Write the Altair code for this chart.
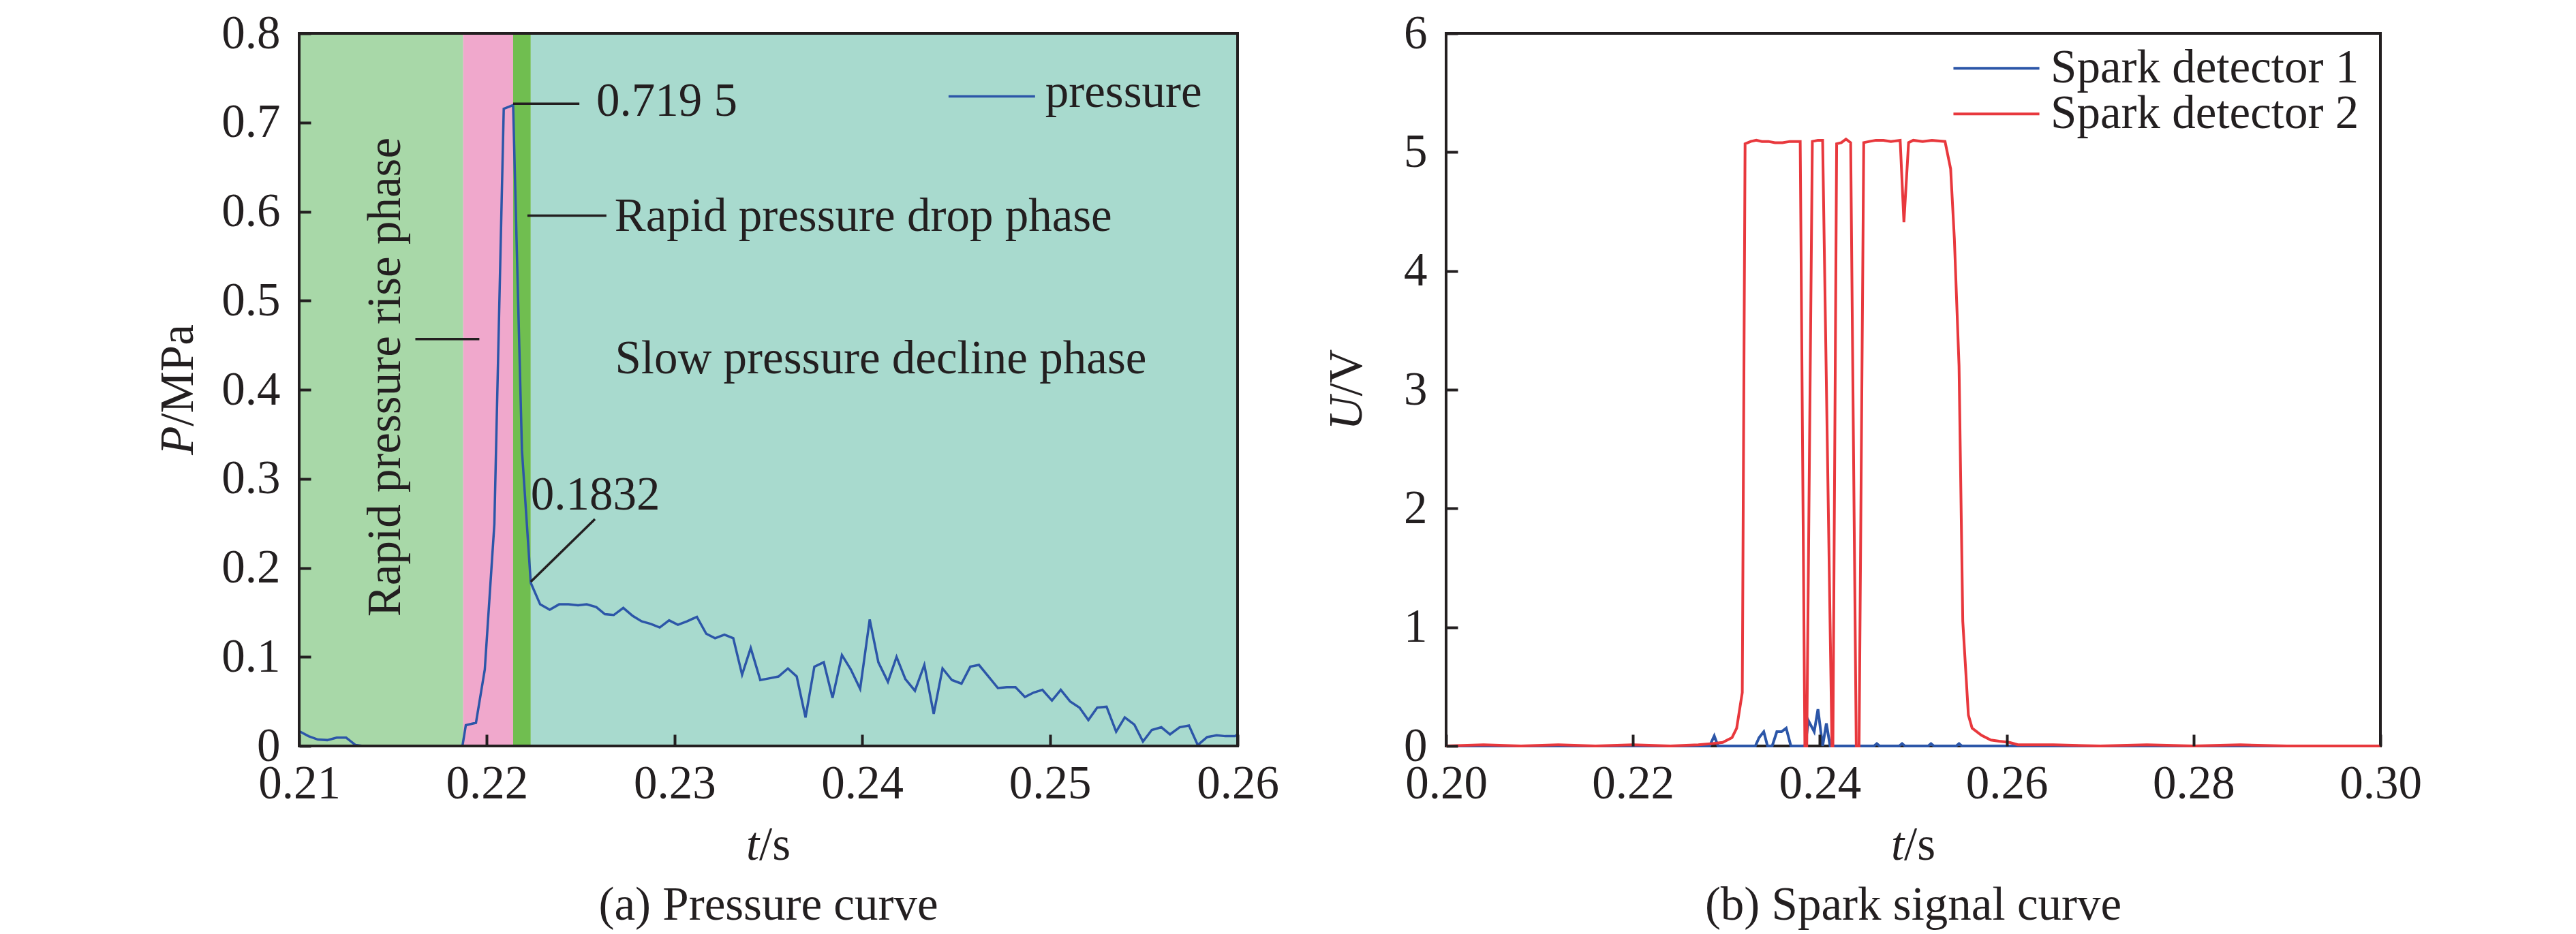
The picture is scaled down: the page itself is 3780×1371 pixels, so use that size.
import altair as alt
import pandas as pd

FONT = "Liberation Serif"
INK = "#231f20"
FS = 69

# ---------------- (a) pressure curve ----------------
p_time = [0.21000, 0.21050, 0.21100, 0.21150, 0.21200, 0.21250, 0.21300, 0.21340, 0.21870,
          0.21888, 0.21942, 0.21989, 0.22040, 0.22090, 0.22140, 0.22187, 0.22234, 0.22284,
          0.22335, 0.22385, 0.22435, 0.22486, 0.22532, 0.22583, 0.22629, 0.22676, 0.22727,
          0.22777, 0.22824, 0.22874, 0.22921, 0.22971, 0.23018, 0.23068, 0.23119, 0.23169,
          0.23216, 0.23266, 0.23313, 0.23360, 0.23406, 0.23457, 0.23507, 0.23554, 0.23604,
          0.23651, 0.23698, 0.23745, 0.23795, 0.23842, 0.23892, 0.23939, 0.23989, 0.24040,
          0.24086, 0.24137, 0.24183, 0.24230, 0.24281, 0.24331, 0.24381, 0.24428, 0.24478,
          0.24529, 0.24576, 0.24622, 0.24673, 0.24723, 0.24770, 0.24817, 0.24867, 0.24914,
          0.24960, 0.25011, 0.25058, 0.25108, 0.25158, 0.25205, 0.25252, 0.25302, 0.25353,
          0.25399, 0.25450, 0.25496, 0.25543, 0.25594, 0.25640, 0.25691, 0.25741, 0.25788,
          0.25838, 0.25888, 0.25935, 0.25986, 0.26000]
p_value = [0.0166, 0.0110, 0.0072, 0.0066, 0.0094, 0.0094, 0.0011, 0.0000, 0.0000,
           0.0233, 0.0260, 0.0858, 0.2490, 0.7153, 0.7195, 0.3320, 0.1832, 0.1590,
           0.1530, 0.1590, 0.1590, 0.1580, 0.1590, 0.1560, 0.1480, 0.1470, 0.1550,
           0.1460, 0.1400, 0.1370, 0.1330, 0.1410, 0.1360, 0.1400, 0.1450, 0.1260,
           0.1210, 0.1250, 0.1210, 0.0800, 0.1100, 0.0740, 0.0760, 0.0780, 0.0870,
           0.0780, 0.0320, 0.0890, 0.0940, 0.0540, 0.1020, 0.0860, 0.0640, 0.1420,
           0.0940, 0.0720, 0.1000, 0.0750, 0.0620, 0.0910, 0.0360, 0.0870, 0.0740,
           0.0700, 0.0890, 0.0910, 0.0780, 0.0650, 0.0660, 0.0660, 0.0550, 0.0600,
           0.0630, 0.0510, 0.0630, 0.0500, 0.0430, 0.0290, 0.0430, 0.0440, 0.0160,
           0.0320, 0.0240, 0.0050, 0.0180, 0.0210, 0.0130, 0.0210, 0.0230, 0.0010,
           0.0100, 0.0120, 0.0110, 0.0110, 0.0130]

band_start = [0.21000, 0.21874, 0.22140, 0.22234]
band_end = [0.21874, 0.22140, 0.22234, 0.26000]
band_color = ["#a8d8a8", "#f0a8cc", "#70be50", "#a8dace"]

a_x_ticks = [0.21, 0.22, 0.23, 0.24, 0.25, 0.26]
a_y_ticks = [0, 0.1, 0.2, 0.3, 0.4, 0.5, 0.6, 0.7, 0.8]

# annotation texts (t, P)
a_label_text = ["0.719 5", "Rapid pressure drop phase", "Slow pressure decline phase", "0.1832", "pressure"]
a_label_t = [0.22583, 0.22680, 0.22683, 0.22234, 0.24975]
a_label_p = [0.7235, 0.5940, 0.4346, 0.2818, 0.7335]
# rotated text
a_rot_text = ["Rapid pressure rise phase"]
a_rot_t = [0.21460]
a_rot_p = [0.4141]
# leader lines (t1, p1, t2, p2)
a_lead_t1 = [0.22140, 0.22216, 0.22234, 0.21619]
a_lead_p1 = [0.7210, 0.5955, 0.1844, 0.4568]
a_lead_t2 = [0.22493, 0.22637, 0.22576, 0.21960]
a_lead_p2 = [0.7210, 0.5955, 0.2547, 0.4568]
# legend line
a_leg_t1 = [0.24460]
a_leg_t2 = [0.24921]
a_leg_p = [0.7292]

# ---------------- (b) spark signal curve ----------------
d1_time = [0.2000, 0.2282, 0.2287, 0.2291, 0.2331, 0.2335, 0.2340, 0.2344, 0.2349, 0.2354,
           0.2359, 0.2364, 0.2369, 0.2384, 0.2388, 0.2394, 0.2398, 0.2403, 0.2407, 0.2411,
           0.2458, 0.2461, 0.2464, 0.2485, 0.2488, 0.2491, 0.2516, 0.2519, 0.2522, 0.2546,
           0.2549, 0.2552, 0.3000]
d1_value = [0.00, 0.00, 0.085, 0.00, 0.00, 0.07, 0.12, 0.00, 0.00, 0.12,
            0.12, 0.15, 0.00, 0.00, 0.21, 0.12, 0.31, 0.00, 0.19, 0.00,
            0.00, 0.02, 0.00, 0.00, 0.02, 0.00, 0.00, 0.02, 0.00, 0.00,
            0.02, 0.00, 0.00]

d2_time = [0.2000, 0.2040, 0.2080, 0.2120, 0.2160, 0.2200, 0.2240, 0.2270, 0.2285, 0.2296,
           0.2306, 0.2311, 0.2317, 0.2320, 0.2326, 0.2332, 0.2338, 0.2345, 0.2352, 0.2360,
           0.2368, 0.2379, 0.2384, 0.2386, 0.2392, 0.2398, 0.2403, 0.2413, 0.2414, 0.2418,
           0.2423, 0.2428, 0.2433, 0.2439, 0.2442, 0.2447, 0.2453, 0.2460, 0.2468, 0.2476,
           0.2486, 0.2490, 0.2495, 0.2500, 0.2510, 0.2520, 0.2534, 0.2540, 0.2544, 0.2549,
           0.2553, 0.2559, 0.2563, 0.2573, 0.2583, 0.2592, 0.2603, 0.2612, 0.2650, 0.2700,
           0.2750, 0.2800, 0.2850, 0.2900, 0.3000]
d2_value = [0.00, 0.01, 0.00, 0.01, 0.00, 0.01, 0.00, 0.01, 0.02, 0.03,
            0.07, 0.15, 0.45, 5.07, 5.09, 5.10, 5.09, 5.09, 5.08, 5.08,
            5.09, 5.09, 0.00, 0.00, 5.09, 5.10, 5.10, 0.00, 0.00, 5.07,
            5.08, 5.11, 5.08, 0.00, 0.00, 5.08, 5.09, 5.10, 5.10, 5.09,
            5.10, 4.41, 5.08, 5.10, 5.09, 5.10, 5.09, 4.86, 4.27, 3.20,
            1.05, 0.26, 0.15, 0.09, 0.05, 0.04, 0.03, 0.01, 0.01, 0.00,
            0.01, 0.00, 0.01, 0.00, 0.00]

b_x_ticks = [0.20, 0.22, 0.24, 0.26, 0.28, 0.30]
b_y_ticks = [0, 1, 2, 3, 4, 5, 6]

series_names = ["Spark detector 1", "Spark detector 2"]
series_colors = ["#2c56a8", "#e8383d"]
b_leg_t1 = [0.2543, 0.2543]
b_leg_t2 = [0.2635, 0.2635]
b_leg_u = [5.706, 5.321]
b_leg_text_t = [0.2647, 0.2647]

# ---------------- layout ----------------
WA, WB, H = 1377, 1371, 1046


def x_axis(ticks):
    return alt.Axis(values=ticks, format=".2f", labelFlush=False, labelOverlap=False,
                    tickSize=17, offset=-17, domain=False, grid=False, title=None,
                    labelPadding=21, tickWidth=4, tickColor=INK, labelColor=INK,
                    labelFont=FONT, labelFontSize=FS, zindex=1)


def y_axis(ticks, expr):
    return alt.Axis(values=ticks, labelExpr=expr, labelOverlap=False, labelFlush=False,
                    tickSize=17, offset=-17, domain=False, grid=False, title=None,
                    labelPadding=28, tickWidth=4, tickColor=INK, labelColor=INK,
                    labelFont=FONT, labelFontSize=FS, zindex=1)


one = alt.Data(values=[{}])


def txt(text, x, y, italic=False, angle=0, align="left", baseline="middle"):
    kw = dict(text=text, font=FONT, fontSize=FS, color=INK, align=align, baseline=baseline)
    if italic:
        kw["fontStyle"] = "italic"
    if angle:
        kw["angle"] = angle
    return alt.Chart(one).mark_text(**kw).encode(x=alt.value(x), y=alt.value(y))


frame = alt.Chart(one).mark_rect(fillOpacity=0, stroke=INK, strokeWidth=4).encode(
    x=alt.value(0), x2=alt.value("width"), y=alt.value(0), y2=alt.value("height"))

# ----- chart (a)
xs_a = alt.Scale(domain=[0.21, 0.26], nice=False, zero=False)
ys_a = alt.Scale(domain=[0, 0.8], nice=False, zero=False)
xa = x_axis(a_x_ticks)
ya = y_axis(a_y_ticks, "datum.value == 0 ? '0' : format(datum.value, '.1f')")

bands = pd.DataFrame({"t1": band_start, "t2": band_end, "c": band_color, "p1": 0.0, "p2": 0.8})
band_layer = alt.Chart(bands).mark_rect().encode(
    x=alt.X("t1:Q", scale=xs_a, axis=xa), x2="t2:Q",
    y=alt.Y("p1:Q", scale=ys_a, axis=ya), y2="p2:Q",
    color=alt.Color("c:N", scale=None))

pdf = pd.DataFrame({"t": p_time, "p": p_value})
p_line = alt.Chart(pdf).mark_line(color="#2c56a8", strokeWidth=3.5).encode(
    x=alt.X("t:Q", scale=xs_a, axis=xa), y=alt.Y("p:Q", scale=ys_a, axis=ya))

lead = pd.DataFrame({"t1": a_lead_t1 + a_leg_t1, "p1": a_lead_p1 + a_leg_p,
                     "t2": a_lead_t2 + a_leg_t2, "p2": a_lead_p2 + a_leg_p,
                     "c": [INK] * len(a_lead_t1) + ["#2c56a8"] * len(a_leg_t1)})
lead_layer = alt.Chart(lead).mark_rule(strokeWidth=3.5).encode(
    x=alt.X("t1:Q", scale=xs_a, axis=xa), x2="t2:Q",
    y=alt.Y("p1:Q", scale=ys_a, axis=ya), y2="p2:Q",
    color=alt.Color("c:N", scale=None))

lab = pd.DataFrame({"t": a_label_t, "p": a_label_p, "s": a_label_text})
lab_layer = alt.Chart(lab).mark_text(font=FONT, fontSize=FS, color=INK, align="left",
                                     baseline="middle").encode(
    x=alt.X("t:Q", scale=xs_a, axis=xa), y=alt.Y("p:Q", scale=ys_a, axis=ya), text="s:N")

rot = pd.DataFrame({"t": a_rot_t, "p": a_rot_p, "s": a_rot_text})
rot_layer = alt.Chart(rot).mark_text(font=FONT, fontSize=FS, color=INK, align="center",
                                     baseline="middle", angle=270).encode(
    x=alt.X("t:Q", scale=xs_a, axis=xa), y=alt.Y("p:Q", scale=ys_a, axis=ya), text="s:N")

fw = FS / 1000.0
# y title  P/MPa (rotated, reads upward)
pa_total = (611 + 2167) * fw
pa_start = H / 2 + pa_total / 2
title_a = [
    txt("P", -177, pa_start, italic=True, angle=270),
    txt("/MPa", -177, pa_start - 611 * fw, angle=270),
    txt("t", WA / 2 - (278 + 667) * fw / 2, H + 167, italic=True, baseline="alphabetic"),
    txt("/s", WA / 2 - (278 + 667) * fw / 2 + 278 * fw, H + 167, baseline="alphabetic"),
    txt("(a) Pressure curve", WA / 2, H + 255, align="center", baseline="alphabetic"),
]

chart_a = alt.layer(band_layer, p_line, lead_layer, lab_layer, rot_layer, frame,
                    *title_a).properties(width=WA, height=H)

# ----- chart (b)
xs_b = alt.Scale(domain=[0.20, 0.30], nice=False, zero=False)
ys_b = alt.Scale(domain=[0, 6], nice=False, zero=False)
xb = x_axis(b_x_ticks)
yb = y_axis(b_y_ticks, "format(datum.value, 'd')")

sdf = pd.concat([
    pd.DataFrame({"t": d1_time, "u": d1_value, "s": series_names[0]}),
    pd.DataFrame({"t": d2_time, "u": d2_value, "s": series_names[1]}),
])
s_line = alt.Chart(sdf).mark_line(strokeWidth=4).encode(
    x=alt.X("t:Q", scale=xs_b, axis=xb), y=alt.Y("u:Q", scale=ys_b, axis=yb),
    color=alt.Color("s:N", scale=alt.Scale(domain=series_names, range=series_colors), legend=None),
    detail="s:N")

legb = pd.DataFrame({"t1": b_leg_t1, "t2": b_leg_t2, "u": b_leg_u, "tt": b_leg_text_t,
                     "s": series_names})
legb_line = alt.Chart(legb).mark_rule(strokeWidth=4).encode(
    x=alt.X("t1:Q", scale=xs_b, axis=xb), x2="t2:Q", y=alt.Y("u:Q", scale=ys_b, axis=yb),
    color=alt.Color("s:N", scale=alt.Scale(domain=series_names, range=series_colors), legend=None))
legb_text = alt.Chart(legb).mark_text(font=FONT, fontSize=FS, color=INK, align="left",
                                      baseline="middle").encode(
    x=alt.X("tt:Q", scale=xs_b, axis=xb), y=alt.Y("u:Q", scale=ys_b, axis=yb), text="s:N")

uv_total = (722 + 1000) * fw
uv_start = H / 2 + uv_total / 2
title_b = [
    txt("U", -145, uv_start, italic=True, angle=270),
    txt("/V", -145, uv_start - 722 * fw, angle=270),
    txt("t", WB / 2 - (278 + 667) * fw / 2, H + 167, italic=True, baseline="alphabetic"),
    txt("/s", WB / 2 - (278 + 667) * fw / 2 + 278 * fw, H + 167, baseline="alphabetic"),
    txt("(b) Spark signal curve", WB / 2, H + 255, align="center", baseline="alphabetic"),
]

chart_b = alt.layer(frame, s_line, legb_line, legb_text, *title_b).properties(width=WB, height=H)

chart = alt.hconcat(chart_a, chart_b, spacing=65).properties(
    padding={"left": 219, "top": 6, "right": 5, "bottom": 5}
).configure_view(strokeWidth=0).configure(background="white")

chart.save("out.html", embed_options={"renderer": "svg", "actions": False})
